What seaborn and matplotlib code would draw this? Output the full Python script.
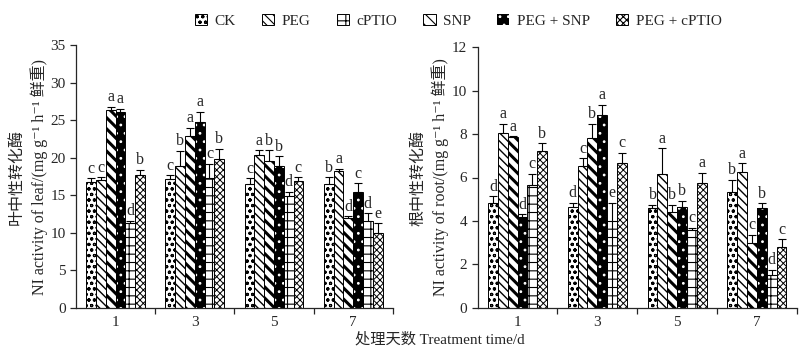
import matplotlib
matplotlib.use("Agg")
import matplotlib.pyplot as plt
import matplotlib.patches as mpatches
import seaborn as sns
import pandas as pd
import numpy as np

days = ["1", "3", "5", "7"]
# order of bars inside each group (as drawn in the reference)
bar_order = ["CK", "PEG", "SNP", "PEG + SNP", "cPTIO", "PEG + cPTIO"]
# legend order in the reference
legend_order = ["CK", "PEG", "cPTIO", "SNP", "PEG + SNP", "PEG + cPTIO"]

# Leaf NI activity (per treatment, days 1,3,5,7)
leaf_CK = [16.8, 17.2, 16.5, 16.5]
leaf_PEG = [17.0, 18.9, 20.4, 18.2]
leaf_SNP = [26.4, 22.9, 19.5, 12.0]
leaf_PEGSNP = [26.1, 24.7, 18.9, 15.5]
leaf_cPTIO = [11.3, 17.3, 14.9, 11.6]
leaf_PEGcPTIO = [17.7, 19.8, 16.9, 10.0]
leaf_err_CK = [0.5, 0.5, 0.8, 0.9]
leaf_err_PEG = [0.4, 2.0, 0.6, 0.3]
leaf_err_SNP = [0.4, 1.1, 1.5, 0.2]
leaf_err_PEGSNP = [0.4, 1.4, 1.3, 1.1]
leaf_err_cPTIO = [0.3, 1.9, 0.6, 1.0]
leaf_err_PEGcPTIO = [0.7, 1.4, 0.5, 1.3]
leaf_let_CK = ["c", "c", "c", "b"]
leaf_let_PEG = ["c", "b", "a", "a"]
leaf_let_SNP = ["a", "a", "b", "d"]
leaf_let_PEGSNP = ["a", "a", "b", "c"]
leaf_let_cPTIO = ["d", "c", "d", "d"]
leaf_let_PEGcPTIO = ["b", "b", "c", "e"]

# Root NI activity
root_CK = [4.84, 4.66, 4.58, 5.35]
root_PEG = [8.03, 6.53, 6.16, 6.27]
root_SNP = [7.85, 7.81, 4.40, 2.97]
root_PEGSNP = [4.17, 8.87, 4.66, 4.58]
root_cPTIO = [5.66, 4.00, 3.59, 1.50]
root_PEGcPTIO = [7.22, 6.65, 5.73, 2.82]
root_err_CK = [0.29, 0.17, 0.16, 0.54]
root_err_PEG = [0.43, 0.35, 1.18, 0.38]
root_err_SNP = [0.05, 0.65, 0.34, 0.39]
root_err_PEGSNP = [0.14, 0.48, 0.26, 0.23]
root_err_cPTIO = [0.50, 0.83, 0.11, 0.25]
root_err_PEGcPTIO = [0.35, 0.49, 0.49, 0.35]
root_let_CK = ["d", "d", "b", "b"]
root_let_PEG = ["a", "c", "a", "a"]
root_let_SNP = ["a", "b", "b", "c"]
root_let_PEGSNP = ["d", "a", "b", "b"]
root_let_cPTIO = ["c", "e", "c", "d"]
root_let_PEGcPTIO = ["b", "c", "a", "c"]

leaf_vals = dict(zip(bar_order, [leaf_CK, leaf_PEG, leaf_SNP, leaf_PEGSNP, leaf_cPTIO, leaf_PEGcPTIO]))
leaf_errs = dict(zip(bar_order, [leaf_err_CK, leaf_err_PEG, leaf_err_SNP, leaf_err_PEGSNP, leaf_err_cPTIO, leaf_err_PEGcPTIO]))
leaf_lets = dict(zip(bar_order, [leaf_let_CK, leaf_let_PEG, leaf_let_SNP, leaf_let_PEGSNP, leaf_let_cPTIO, leaf_let_PEGcPTIO]))
root_vals = dict(zip(bar_order, [root_CK, root_PEG, root_SNP, root_PEGSNP, root_cPTIO, root_PEGcPTIO]))
root_errs = dict(zip(bar_order, [root_err_CK, root_err_PEG, root_err_SNP, root_err_PEGSNP, root_err_cPTIO, root_err_PEGcPTIO]))
root_lets = dict(zip(bar_order, [root_let_CK, root_let_PEG, root_let_SNP, root_let_PEGSNP, root_let_cPTIO, root_let_PEGcPTIO]))

hatches = {"CK": "ooo", "PEG": "\\\\\\\\", "SNP": "\\\\\\", "PEG + SNP": "..",
           "cPTIO": "++", "PEG + cPTIO": "xxxxx"}
hatch_lw = {"CK": 0.8, "PEG": 1.0, "SNP": 2.2, "PEG + SNP": 0.8,
            "cPTIO": 0.8, "PEG + cPTIO": 0.7}
faces = {k: ("black" if k == "PEG + SNP" else "white") for k in bar_order}

sns.set_style("ticks")
plt.rcParams["font.family"] = ["Liberation Serif", "Noto Sans CJK SC", "DejaVu Serif"]
plt.rcParams["hatch.linewidth"] = 0.8
plt.rcParams["axes.linewidth"] = 0.9


def set_hlw(p, lw):
    if hasattr(p, "set_hatch_linewidth"):
        p.set_hatch_linewidth(lw)
    else:
        p._hatch_linewidth = lw


fig = plt.figure(figsize=(8, 3.55), dpi=100)
axL = fig.add_axes([0.095, 0.1324, 0.396, 0.7408])
axR = fig.add_axes([0.597, 0.1324, 0.399, 0.7352])


def draw(ax, vals, errs, lets, ymax, ystep, ylabel, off):
    rows = []
    for t in bar_order:
        for d, v in zip(days, vals[t]):
            rows.append({"day": d, "treatment": t, "value": v})
    df = pd.DataFrame(rows)
    sns.barplot(data=df, x="day", y="value", hue="treatment", order=days,
                hue_order=bar_order, palette=faces, edgecolor="black",
                linewidth=0.7, width=0.74, errorbar=None, legend=False,
                saturation=1, ax=ax)
    for t, cont in zip(bar_order, ax.containers):
        for i, p in enumerate(cont.patches):
            p.set_hatch(hatches[t])
            set_hlw(p, hatch_lw[t])
            if t == "PEG + SNP":
                p.set_edgecolor("white")
                p.set_linewidth(0)
                ax.add_patch(mpatches.Rectangle(p.get_xy(), p.get_width(), p.get_height(),
                                                fill=False, edgecolor="black", linewidth=0.7,
                                                zorder=p.get_zorder() + 0.1))
            xc = p.get_x() + p.get_width() / 2
            top = p.get_height()
            e = errs[t][i]
            ax.errorbar([xc], [top], yerr=[[0], [e]], fmt="none", ecolor="black",
                        elinewidth=0.8, capsize=3.2, capthick=0.8, zorder=5)
            ax.text(xc, top + e + off, lets[t][i], ha="center", va="bottom", fontsize=11.5)
    ax.set_ylim(0, ymax)
    ax.set_xlim(-0.5, 3.5)
    ax.set_yticks(np.arange(0, ymax + 0.01, ystep))
    ax.set_xticks(range(len(days)))
    ax.set_xticklabels(days)
    ax.set_xticks([0.5, 1.5, 2.5, 3.5], minor=True)
    ax.tick_params(axis="x", which="major", length=0, labelsize=11, pad=6)
    ax.tick_params(axis="x", which="minor", length=4, direction="out", width=0.9)
    ax.tick_params(axis="y", length=4, direction="out", labelsize=11, width=0.9)
    ax.set_xlabel("")
    ax.set_ylabel(ylabel, fontsize=11.5, linespacing=1.35, labelpad=2)
    sns.despine(ax=ax)


draw(axL, leaf_vals, leaf_errs, leaf_lets, 35, 5,
     "叶中性转化酶\nNI activity of leaf/(mg g⁻¹ h⁻¹ 鲜重)", 0.2)
draw(axR, root_vals, root_errs, root_lets, 12, 2,
     "根中性转化酶\nNI activity of root/(mg g⁻¹ h⁻¹ 鲜重)", 0.07)

handles = []
for t in legend_order:
    if t == "PEG + SNP":
        h = mpatches.Patch(facecolor="black", edgecolor="white", hatch="..", linewidth=0)
    else:
        h = mpatches.Patch(facecolor="white", edgecolor="black", hatch=hatches[t], linewidth=0.7)
    handles.append(h)
fig.legend(handles, legend_order, loc="upper center", bbox_to_anchor=(0.573, 1.0),
           ncol=6, frameon=False, fontsize=11, handlelength=0.8, handleheight=0.8,
           columnspacing=1.7, handletextpad=0.5)

fig.text(0.55, 0.025, "处理天数 Treatment time/d", ha="center", va="bottom", fontsize=11)

fig.savefig("out.png", dpi=100)
